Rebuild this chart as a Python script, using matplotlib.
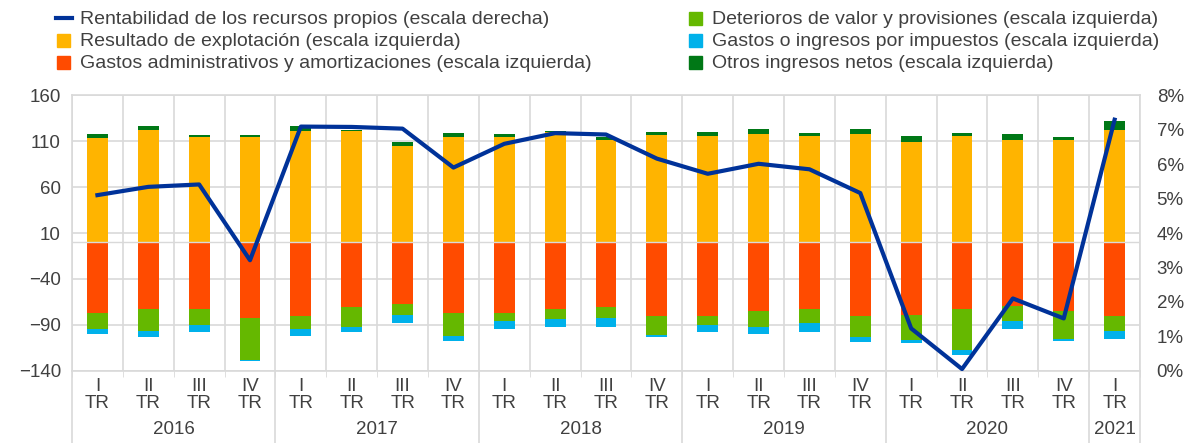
import matplotlib.pyplot as plt
import numpy as np
from matplotlib.patches import Rectangle
from matplotlib.lines import Line2D

plt.rcParams['font.family'] = ['Liberation Sans', 'DejaVu Sans']

# datos
trimestres = ['I', 'II', 'III', 'IV'] * 5 + ['I']
anios = ['2016', '2017', '2018', '2019', '2020', '2021']
resultado = [113, 122, 114, 114, 121, 121, 105, 114, 114, 120, 111.5, 117,
             115.5, 118, 116, 118, 109, 115.5, 111.5, 111, 122]
otros = [5, 5, 3, 2.5, 5, 1, 4, 5, 4, 1, 3, 3, 4.5, 5, 3, 5, 7, 3, 6.5, 3, 10]
gastos_adm = [-77, -73, -73, -82, -80, -71, -67, -77, -77, -73, -71, -80,
              -80, -75, -73, -80, -79, -73, -69, -75, -80]
deterioros = [-17, -24, -17, -46, -14.5, -21, -12.5, -25, -9, -10.5, -12, -21,
              -10, -17, -14.5, -23, -27, -44, -17, -30, -17]
impuestos = [-6, -6, -8, -1.5, -8, -6, -8.5, -6, -9, -9, -9, -2,
             -8, -8, -10, -5.5, -4, -5.5, -9, -3, -8]
roe = [5.10, 5.34, 5.41, 3.21, 7.09, 7.08, 7.03, 5.90, 6.59, 6.90, 6.86, 6.16,
       5.72, 6.01, 5.85, 5.16, 1.23, 0.05, 2.10, 1.52, 7.29]

c_res = '#FFB400'
c_adm = '#FF4B00'
c_det = '#65B800'
c_imp = '#00B1EA'
c_otr = '#007816'
c_roe = '#003299'
c_txt = '#404040'
c_grid = '#d9d9d9'

n = len(resultado)
x = np.arange(n)
w = 0.41

fig = plt.figure(figsize=(11.92, 4.43), dpi=100)
ax = fig.add_axes([0.0604, 0.163, 0.896, 0.622])

ax.bar(x, resultado, w, color=c_res, zorder=2)
ax.bar(x, otros, w, bottom=resultado, color=c_otr, zorder=2)
ax.bar(x, gastos_adm, w, color=c_adm, zorder=2)
neg2 = np.array(gastos_adm) + np.array(deterioros)
ax.bar(x, deterioros, w, bottom=gastos_adm, color=c_det, zorder=2)
ax.bar(x, impuestos, w, bottom=neg2, color=c_imp, zorder=2)
ax.axhline(0, color=c_grid, lw=1, zorder=3)

ax.set_xlim(-0.5, n - 0.5)
ax.set_ylim(-140, 160)
ax.set_yticks(np.arange(-140, 161, 50))
ax.tick_params(axis='y', length=0, labelsize=13.5, colors=c_txt, pad=8)
ax.set_xticks(x)
ax.set_xticklabels([t + '\nTR' for t in trimestres], fontsize=13.5, color=c_txt,
                   linespacing=1.0)
ax.tick_params(axis='x', length=0, pad=5)
ax.set_xticks(np.arange(-0.5, n, 1), minor=True)
ax.tick_params(axis='x', which='minor', length=4, color=c_grid)
ax.grid(True, which='minor', axis='x', color=c_grid, lw=1.2, zorder=0)
ax.grid(True, which='major', axis='y', color=c_grid, lw=1.2, zorder=0)
for s in ax.spines.values():
    s.set_color(c_grid)
    s.set_linewidth(1.2)

# separadores de anios y etiquetas
bordes = [-0.5, 3.5, 7.5, 11.5, 15.5, 19.5, 20.5]
for b in bordes:
    ax.plot([b, b], [0, -0.3], transform=ax.get_xaxis_transform(),
            color=c_grid, lw=1.2, clip_on=False)
for i, a in enumerate(anios):
    xm = (bordes[i] + bordes[i + 1]) / 2
    ax.text(xm, -0.213, a, transform=ax.get_xaxis_transform(), ha='center',
            va='center', fontsize=13.5, color=c_txt)

ax2 = ax.twinx()
ax2.plot(x, roe, color=c_roe, lw=3, zorder=5)
ax2.set_ylim(0, 8)
ax2.set_yticks(np.arange(0, 9, 1))
ax2.set_yticklabels([f'{v}%' for v in range(9)])
ax2.tick_params(axis='y', length=0, labelsize=13.5, colors=c_txt, pad=12)
for s in ax2.spines.values():
    s.set_visible(False)

# leyenda
col1 = [('line', c_roe, 'Rentabilidad de los recursos propios (escala derecha)'),
        ('box', c_res, 'Resultado de explotación (escala izquierda)'),
        ('box', c_adm, 'Gastos administrativos y amortizaciones (escala izquierda)')]
col2 = [('box', c_det, 'Deterioros de valor y provisiones (escala izquierda)'),
        ('box', c_imp, 'Gastos o ingresos por impuestos (escala izquierda)'),
        ('box', c_otr, 'Otros ingresos netos (escala izquierda)')]
ys = [1 - 20 / 443, 1 - 42 / 443, 1 - 64 / 443]
for col, x0 in [(col1, 56 / 1192), (col2, 688 / 1192)]:
    for (kind, c, lab), yy in zip(col, ys):
        if kind == 'line':
            fig.add_artist(Line2D([x0, x0 + 16 / 1192], [yy + 0.004, yy + 0.004],
                                  color=c, lw=3, transform=fig.transFigure))
        else:
            fig.add_artist(Rectangle((x0 + 1 / 1192, yy - 0.012), 13 / 1192, 0.03,
                                     color=c, transform=fig.transFigure))
        fig.text(x0 + 24 / 1192, yy, lab, fontsize=14, color=c_txt, va='center')

fig.savefig('out.png', dpi=100)
